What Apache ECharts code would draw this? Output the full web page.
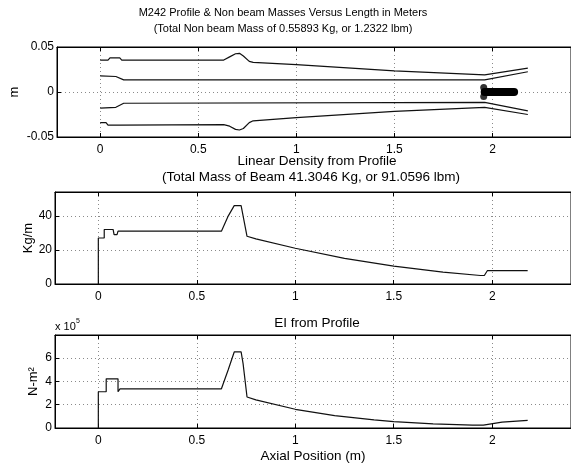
<!DOCTYPE html>
<html><head><meta charset="utf-8">
<script src="https://cdn.jsdelivr.net/npm/echarts@6/dist/echarts.min.js"></script>
<style>html,body{margin:0;padding:0;background:#fff}#c{width:571px;height:464px}</style>
</head><body><div id="c"></div>
<script>
// ---- Data ----
// Profile (m)
const outerTopX = [0, 0.04, 0.05, 0.1, 0.11, 0.63, 0.66, 0.69, 0.71, 0.73, 0.76, 0.78, 1.0, 1.5, 1.96, 2.18];
const outerTopY = [0.0355, 0.0355, 0.038, 0.038, 0.0355, 0.0355, 0.039, 0.0425, 0.043, 0.04, 0.034, 0.033, 0.0305, 0.0235, 0.019, 0.0265];
const innerTopX = [0, 0.08, 0.12, 1.96, 2.18];
const innerTopY = [0.018, 0.0172, 0.0135, 0.0135, 0.0225];
const innerBotX = [0, 0.08, 0.12, 1.96, 2.18];
const innerBotY = [-0.018, -0.017, -0.0125, -0.0115, -0.021];
const outerBotX = [0, 0.03, 0.04, 0.1, 0.11, 0.63, 0.66, 0.69, 0.71, 0.73, 0.76, 0.78, 1.0, 1.5, 1.96, 2.18];
const outerBotY = [-0.034, -0.034, -0.0368, -0.0368, -0.0362, -0.0362, -0.038, -0.0415, -0.0422, -0.0405, -0.034, -0.032, -0.0285, -0.0215, -0.017, -0.025];
// Non-beam mass marker
const massX = [1.96, 2.11];
const massY = [0, 0];
const massLobeX = [1.955, 1.955];
const massLobeY = [0.005, -0.005];
// Linear density (Kg/m)
const densX = [0, 0, 0.03, 0.03, 0.075, 0.08, 0.095, 0.1, 0.625, 0.66, 0.69, 0.725, 0.735, 0.755, 0.8, 1.0, 1.25, 1.5, 1.75, 1.94, 1.96, 1.975, 2.18];
const densY = [0, 27, 27, 32, 32, 29, 29, 31, 31, 40, 46, 46, 40, 28, 26.5, 21, 15, 10.5, 7, 5, 5, 7.8, 7.8];
// EI (x 10^5 N-m^2)
const eiX = [0, 0, 0.04, 0.04, 0.1, 0.1, 0.11, 0.625, 0.66, 0.69, 0.725, 0.735, 0.755, 0.8, 1.0, 1.2, 1.4, 1.5, 1.7, 1.9, 1.955, 1.965, 2.05, 2.18];
const eiY = [0, 3.1, 3.1, 4.2, 4.2, 3.1, 3.35, 3.35, 5.0, 6.5, 6.5, 5.5, 2.65, 2.4, 1.6, 1.05, 0.7, 0.55, 0.35, 0.25, 0.25, 0.4, 0.5, 0.65];
// Axis ranges
const xMin = -0.22, xMax = 2.4;
const profMin = -0.05, profMax = 0.05;
const densMax = 54, eiMax = 7.95;

const zip = (xs, ys) => xs.map((x, i) => [x, ys[i]]);
const FONT = 'Liberation Sans';
const gridDefs = [
  {left: 55, top: 47, width: 524, height: 90},
  {left: 55, top: 192, width: 524, height: 92},
  {left: 55, top: 335, width: 524, height: 93}
];
const splitLine = {show: true, lineStyle: {color: '#8a8a8a', type: [1, 3], width: 1}};
const axisLine = {show: true, onZero: false, lineStyle: {color: '#000', width: 1}};
const axisTick = {show: true, inside: true, length: 4, lineStyle: {color: '#000'}};
const labelStyle = {color: '#000', fontFamily: FONT, fontSize: 12};
const nameStyle = {color: '#000', fontFamily: FONT, fontSize: 13};

function xAxisFor(i, extra) {
  return Object.assign({
    type: 'value', gridIndex: i, min: xMin, max: xMax, splitNumber: 5,
    axisLine, axisTick, splitLine,
    axisLabel: Object.assign({margin: 7, showMinLabel: false, showMaxLabel: false,
      formatter: v => String(v)}, labelStyle)
  }, extra || {});
}
function topXAxis(i) {
  return {type: 'value', gridIndex: i, position: 'top', min: xMin, max: xMax, splitNumber: 5,
    axisLine, axisTick, splitLine: {show: false}, axisLabel: {show: false}};
}
function yName(text, gap) {
  return {name: text, nameLocation: 'middle', nameGap: gap, nameRotate: 90,
    nameMoveOverlap: false, nameTextStyle: nameStyle};
}

const option = {
  animation: false,
  backgroundColor: '#fff',
  grid: gridDefs.map(g => Object.assign({show: true, borderColor: '#000', borderWidth: 1, backgroundColor: '#fff'}, g)),
  xAxis: [
    xAxisFor(0), xAxisFor(1),
    xAxisFor(2, {name: 'Axial Position (m)', nameLocation: 'middle', nameGap: 21, nameMoveOverlap: false,
      nameTextStyle: {color: '#000', fontFamily: FONT, fontSize: 13.5}}),
    topXAxis(0), topXAxis(1), topXAxis(2)
  ],
  yAxis: [
    Object.assign({type: 'value', gridIndex: 0, min: profMin, max: profMax, interval: 0.05,
      axisLine, axisTick, splitLine,
      axisLabel: Object.assign({margin: 3, formatter: v => v === 0 ? '0' : v.toFixed(2)}, labelStyle)},
      yName('m', 36)),
    Object.assign({type: 'value', gridIndex: 1, min: 0, max: densMax, interval: 20,
      axisLine, axisTick, splitLine,
      axisLabel: Object.assign({margin: 3, showMaxLabel: false}, labelStyle)},
      yName('Kg/m', 20)),
    Object.assign({type: 'value', gridIndex: 2, min: 0, max: eiMax, interval: 2,
      axisLine, axisTick, splitLine,
      axisLabel: Object.assign({margin: 3, showMaxLabel: false}, labelStyle)},
      yName('N-m²', 15))
  ],
  graphic: [
    {type: 'text', x: 283, y: 13, style: {text: 'M242 Profile & Non beam Masses Versus Length in Meters', textAlign: 'center', textVerticalAlign: 'middle', font: '11px "Liberation Sans"', fill: '#000'}},
    {type: 'text', x: 283, y: 29, style: {text: '(Total Non beam Mass of 0.55893 Kg, or 1.2322 lbm)', textAlign: 'center', textVerticalAlign: 'middle', font: '11px "Liberation Sans"', fill: '#000'}},
    {type: 'text', x: 317, y: 161, style: {text: 'Linear Density from Profile', textAlign: 'center', textVerticalAlign: 'middle', font: '13.5px "Liberation Sans"', fill: '#000'}},
    {type: 'text', x: 311, y: 177, style: {text: '(Total Mass of Beam 41.3046 Kg, or 91.0596 lbm)', textAlign: 'center', textVerticalAlign: 'middle', font: '13.5px "Liberation Sans"', fill: '#000'}},
    {type: 'text', x: 317, y: 323, style: {text: 'EI from Profile', textAlign: 'center', textVerticalAlign: 'middle', font: '13.5px "Liberation Sans"', fill: '#000'}},
    {type: 'text', x: 55, y: 327, style: {text: 'x 10', textAlign: 'left', textVerticalAlign: 'middle', font: '11px "Liberation Sans"', fill: '#000'}},
    {type: 'text', x: 76, y: 321, style: {text: '5', textAlign: 'left', textVerticalAlign: 'middle', font: '7px "Liberation Sans"', fill: '#000'}}
  ],
  series: [
    {type: 'line', xAxisIndex: 0, yAxisIndex: 0, data: zip(outerTopX, outerTopY), showSymbol: false, lineStyle: {color: '#111', width: 1.2}},
    {type: 'line', xAxisIndex: 0, yAxisIndex: 0, data: zip(innerTopX, innerTopY), showSymbol: false, lineStyle: {color: '#111', width: 1.2}},
    {type: 'line', xAxisIndex: 0, yAxisIndex: 0, data: zip(innerBotX, innerBotY), showSymbol: false, lineStyle: {color: '#111', width: 1.2}},
    {type: 'line', xAxisIndex: 0, yAxisIndex: 0, data: zip(outerBotX, outerBotY), showSymbol: false, lineStyle: {color: '#111', width: 1.2}},
    {type: 'line', xAxisIndex: 0, yAxisIndex: 0, data: zip(massX, massY), showSymbol: false, lineStyle: {color: '#000', width: 8, cap: 'round'}},
    {type: 'scatter', xAxisIndex: 0, yAxisIndex: 0, data: zip(massLobeX, massLobeY), symbol: 'circle', symbolSize: 7, itemStyle: {color: '#000'}},
    {type: 'line', xAxisIndex: 1, yAxisIndex: 1, data: zip(densX, densY), showSymbol: false, lineStyle: {color: '#111', width: 1.2}},
    {type: 'line', xAxisIndex: 2, yAxisIndex: 2, data: zip(eiX, eiY), showSymbol: false, lineStyle: {color: '#111', width: 1.2}}
  ]
};
echarts.init(document.getElementById('c'), null, {renderer: 'canvas'}).setOption(option);
</script></body></html>
